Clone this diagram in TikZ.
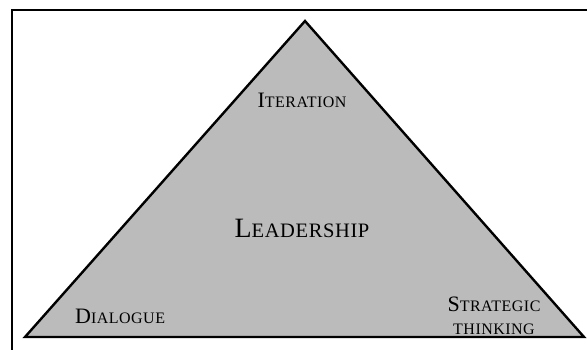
\documentclass[tikz,border=0pt]{standalone}
\usepackage{fontspec}
\setmainfont{Liberation Serif}[LetterSpace=3]
\newcommand{\fakesc}[4]{{\fontsize{#1}{#1}\selectfont #3}{\fontsize{#2}{#2}\selectfont #4}}
\definecolor{trigray}{HTML}{BBBBBB}
\tikzset{
  frameline/.style={line width=2.2pt, line cap=rect},
  tri/.style={draw=black, fill=trigray, line width=2.4pt, line join=miter},
  lbl/.style={inner sep=0pt, anchor=base, text=black}
}
\begin{document}
\begin{tikzpicture}[x=1pt, y=-1pt]
\useasboundingbox (0,0) rectangle (587,350);
\coordinate (fa) at (12,350);
\coordinate (fb) at (12,10);
\coordinate (fc) at (588,10);
\draw[frameline] (fa) -- (fb) -- (fc);
\coordinate (apex) at (305,21);
\coordinate (bl) at (25,337);
\coordinate (br) at (584,337);
\draw[tri] (apex) -- (br) -- (bl) -- cycle;
\node[lbl] (lead) at (302,238) {\fakesc{28}{20.5}{L}{EADERSHIP}};
\node[lbl] (iter) at (302,108) {\fakesc{22}{16}{I}{TERATION}};
\node[lbl, anchor=base west] (dia) at (75,323) {\fakesc{22}{16}{D}{IALOGUE}};
\node[lbl] (strat) at (494,311) {\fakesc{22}{16}{S}{TRATEGIC}};
\node[lbl] (think) at (494,334) {\fakesc{16}{16}{}{THINKING}};
\end{tikzpicture}
\end{document}
